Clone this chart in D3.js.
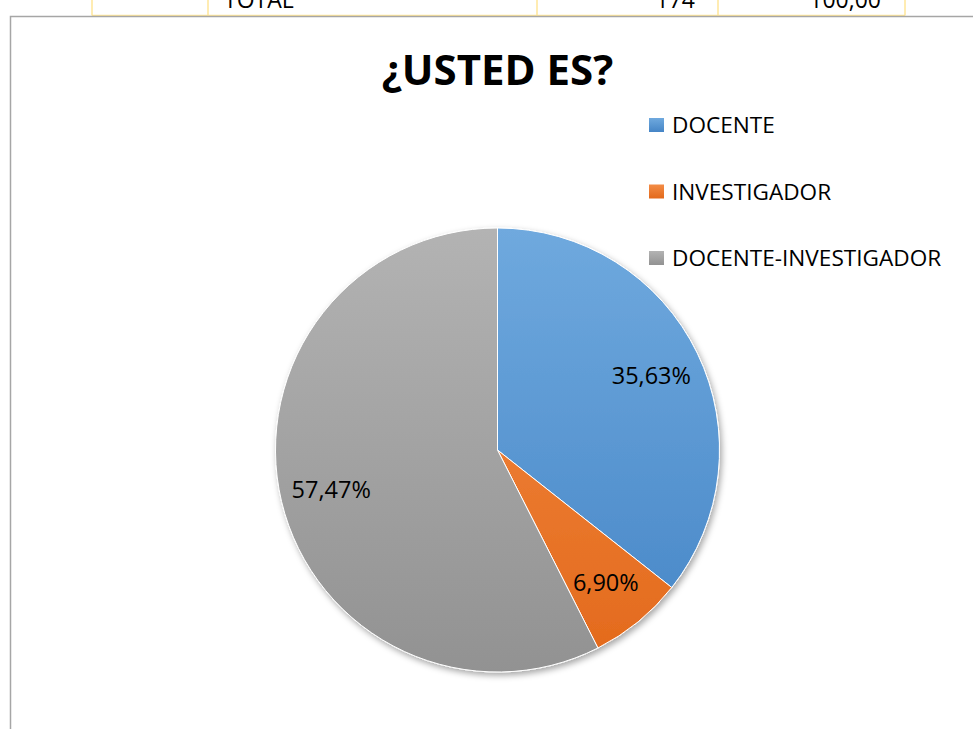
<!DOCTYPE html>
<html><head><meta charset="utf-8">
<script src="https://cdn.jsdelivr.net/npm/d3@7"></script>
<style>body{margin:0;background:#fff;}svg{display:block;}</style>
</head><body>
<svg id="c" width="973" height="729"></svg>
<script>
const categories = ["DOCENTE", "INVESTIGADOR", "DOCENTE-INVESTIGADOR"];
const values = [62, 12, 100];
const labels = ["35,63%", "6,90%", "57,47%"];
const title = "¿USTED ES?";
const tableRow = ["TOTAL", "174", "100,00"];
const colorsTop = ["#6fa9de", "#f38c46", "#b3b3b3"];
const colorsBottom = ["#4585c6", "#e3691b", "#929292"];

const svg = d3.select("#c");
const font = "'Open Sans', 'Noto Sans', sans-serif";

// partial table above
const tb = svg.append("g");
const xs = [92, 208, 537, 718, 905];
xs.forEach(x => tb.append("line").attr("x1", x).attr("x2", x).attr("y1", 0).attr("y2", 15.5).attr("stroke", "#ffe699").attr("stroke-width", 1.5));
tb.append("line").attr("x1", 92).attr("x2", 905).attr("y1", 15.5).attr("y2", 15.5).attr("stroke", "#ffe699").attr("stroke-width", 1.5);
tb.append("text").attr("x", 224).attr("y", 8).attr("font-family", font).attr("font-size", 23).text(tableRow[0]);
tb.append("text").attr("x", 695).attr("y", 8).attr("text-anchor", "end").attr("font-family", font).attr("font-size", 23).text(tableRow[1]);
tb.append("text").attr("x", 881).attr("y", 8).attr("text-anchor", "end").attr("font-family", font).attr("font-size", 23).text(tableRow[2]);

// chart frame
svg.append("path").attr("d", "M10.5,729 L10.5,16.5 L973,16.5").attr("fill", "none").attr("stroke", "#a6a6a6").attr("stroke-width", 1.5);

// title
svg.append("text").attr("x", 497.5).attr("y", 85).attr("text-anchor", "middle")
  .attr("font-family", font).attr("font-weight", "bold").attr("font-size", 42).text(title);

const cx = 497.5, cy = 450, r = 222;
const defs = svg.append("defs");
categories.forEach((c, i) => {
  const g = defs.append("linearGradient").attr("id", "g" + i).attr("gradientUnits", "userSpaceOnUse")
    .attr("x1", 0).attr("y1", -r).attr("x2", 0).attr("y2", r);
  g.append("stop").attr("offset", "0").attr("stop-color", colorsTop[i]);
  g.append("stop").attr("offset", "1").attr("stop-color", colorsBottom[i]);
  const lgd = defs.append("linearGradient").attr("id", "lg" + i).attr("x1", 0).attr("y1", 0).attr("x2", 0).attr("y2", 1);
  lgd.append("stop").attr("offset", "0").attr("stop-color", colorsTop[i]);
  lgd.append("stop").attr("offset", "1").attr("stop-color", colorsBottom[i]);
});
const f = defs.append("filter").attr("id", "sh").attr("x", "-20%").attr("y", "-20%").attr("width", "140%").attr("height", "140%");
f.append("feDropShadow").attr("dx", 2).attr("dy", 3).attr("stdDeviation", 3).attr("flood-color", "#000").attr("flood-opacity", 0.35);

const pie = d3.pie().sort(null).value(d => d)(values);
const arc = d3.arc().innerRadius(0).outerRadius(r);
const pg = svg.append("g").attr("transform", `translate(${cx},${cy})`);
pg.append("g").attr("filter", "url(#sh)").selectAll("path").data(pie).join("path")
  .attr("d", arc).attr("fill", (d, i) => `url(#g${i})`)
  .attr("stroke", "#fff").attr("stroke-width", 1);

const labelArc = d3.arc().innerRadius(r * 0.77).outerRadius(r * 0.77);
pg.selectAll("text.lab").data(pie).join("text").attr("class", "lab")
  .attr("transform", d => { const p = labelArc.centroid(d); return `translate(${p[0]},${p[1]})`; })
  .attr("text-anchor", "middle").attr("dy", "0.36em")
  .attr("font-family", font).attr("font-size", 23.5).attr("fill", "#000")
  .text((d, i) => labels[i]);

// legend
const lg = svg.append("g").attr("transform", "translate(649,118)");
categories.forEach((c, i) => {
  const y = i * 66.5;
  lg.append("rect").attr("x", 0).attr("y", y).attr("width", 15).attr("height", 14).attr("fill", `url(#lg${i})`);
  lg.append("text").attr("x", 23).attr("y", y + 15).attr("font-family", font).attr("font-size", 22.6).attr("fill", "#000").text(c);
});
</script>
</body></html>
